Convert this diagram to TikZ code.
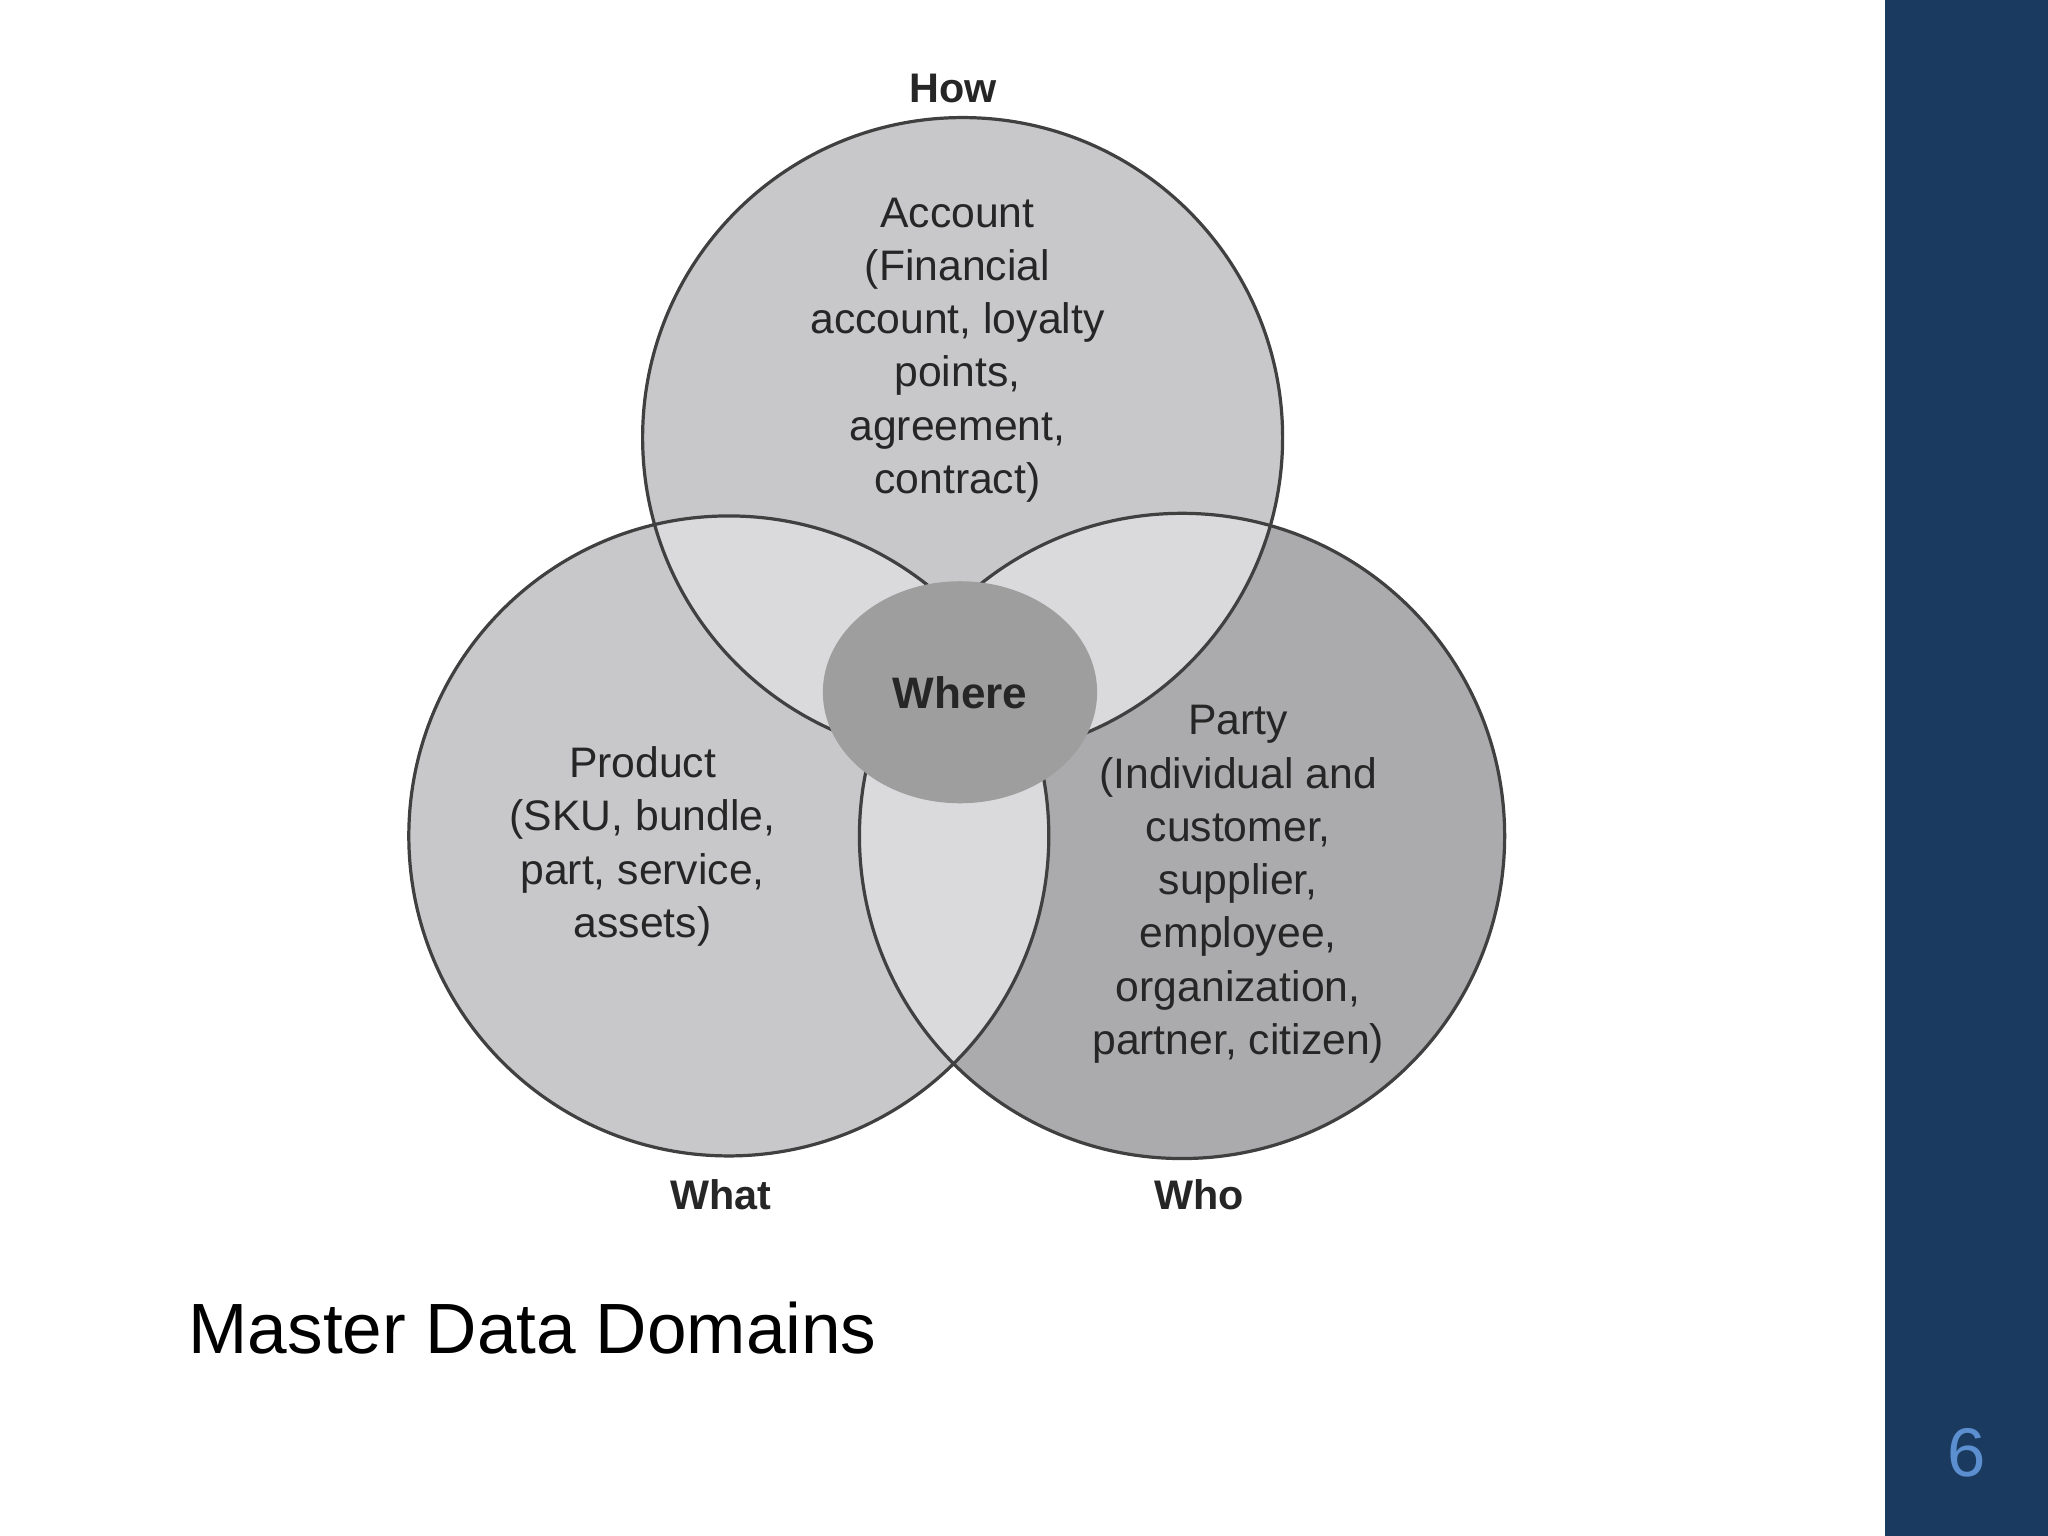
\documentclass[tikz,border=0pt]{standalone}
\usepackage{fontspec}
\setmainfont{Liberation Sans}
\begin{document}
\begin{tikzpicture}[x=0.1mm,y=-0.1mm,
  body/.style={align=center,font=\fontsize{9.3pt}{11.6pt}\selectfont,text=black!85},
  lab/.style={font=\bfseries\fontsize{9pt}{11pt}\selectfont,text=black!85}]
\definecolor{cg}{HTML}{C8C8CA}
\definecolor{cd}{HTML}{ABABAD}
\definecolor{cl}{HTML}{DADADC}
\definecolor{bar}{HTML}{1B3A60}
\useasboundingbox (0,0) rectangle (1568,1176);
\fill[white] (0,0) rectangle (1568,1176);
\fill[bar] (1443,0) rectangle (1568,1176);
\def\T{(737,335) circle[radius=245]}
\def\L{(558,640) circle[radius=245]}
\def\R{(905,640) circle[radius=247]}
\fill[cg] \T; \fill[cg] \L; \fill[cd] \R;
\begin{scope}\clip \T; \fill[cl] \L; \fill[cl] \R; \end{scope}
\begin{scope}\clip \L; \fill[cl] \R; \end{scope}
\draw[black!75,line width=0.7pt] \T \L \R;
\fill[black!38] (735,530) ellipse[x radius=105,y radius=85];
\node[lab,font=\bfseries\fontsize{9.6pt}{11pt}\selectfont] (w) at (735,530) {Where};
\node[body] (acc) at (733,268) {Account\\(Financial\\account, loyalty\\points,\\agreement,\\contract)};
\node[body] (prod) at (492,648) {Product\\(SKU, bundle,\\part, service,\\assets)};
\node[body] (party) at (948,677) {Party\\(Individual and\\customer,\\supplier,\\employee,\\organization,\\partner, citizen)};
\node[lab] (how) at (730,68) {How};
\node[lab] (what) at (552,915) {What};
\node[lab] (who) at (918,915) {Who};
\node[anchor=west,font=\fontsize{15.5pt}{18pt}\selectfont] (title) at (132,1017) {Master Data Domains};
\node[font=\fontsize{15pt}{18pt}\selectfont,text={rgb,255:red,91;green,143;blue,208}] (num) at (1506,1112) {6};
\end{tikzpicture}
\end{document}
